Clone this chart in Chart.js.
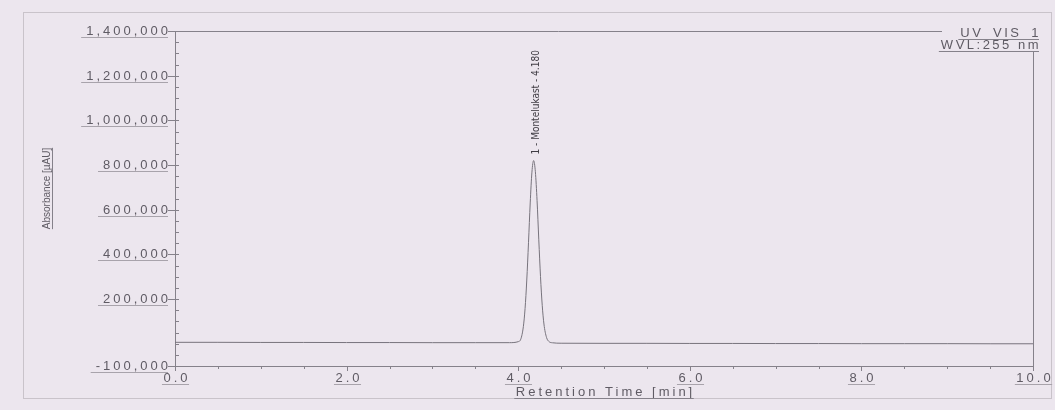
<!DOCTYPE html>
<html>
<head>
<meta charset="utf-8">
<title>Chromatogram</title>
<script src="https://cdn.jsdelivr.net/npm/chart.js@4/dist/chart.umd.min.js"></script>
<style>
  html,body{margin:0;padding:0;background:#ece6ee;overflow:hidden;}
  #wrap{position:relative;width:1055px;height:410px;}
  canvas{display:block;}
</style>
</head>
<body>
<div id="wrap"><canvas id="chroma" width="1055" height="410"></canvas></div>
<script>
/* ===== Data ===== */
const retentionTime = [0.0, 0.5, 1.0, 1.5, 2.0, 2.5, 3.0, 3.5, 3.9, 4.0, 4.03, 4.06, 4.08, 4.10, 4.12, 4.14, 4.16, 4.18,
                       4.20, 4.22, 4.24, 4.26, 4.28, 4.30, 4.33, 4.36, 4.40, 4.5, 5.0, 5.5, 6.0, 6.5, 7.0, 7.5, 8.0, 8.5, 9.0, 9.5, 10.0];
const absorbance    = [6000, 6000, 5500, 5500, 5000, 5000, 4500, 4500, 4500, 9000, 20000, 76000, 157000, 285000, 452000, 630000, 768000, 820000,
                       770000, 640000, 465000, 300000, 172000, 88000, 28000, 9000, 4000, 2000, 1500, 1500, 1000, 1000, 500, 500, 0, 0, 0, -500, -500];

const yTickValues = [-100000, 200000, 400000, 600000, 800000, 1000000, 1200000, 1400000];
const yTickLabels = ['-100,000', '200,000', '400,000', '600,000', '800,000', '1,000,000', '1,200,000', '1,400,000'];
const xTickValues = [0, 2, 4, 6, 8, 10];
const xTickLabels = ['0.0', '2.0', '4.0', '6.0', '8.0', '10.0'];

const peakTime  = 4.18;
const peakValue = 820000;
const peakLabel = '1 - Montelukast - 4.180';

const channelName = 'UV_VIS_1';
const wavelength  = 'WVL:255 nm';
const xTitle = 'Retention Time [min]';
const yTitle = 'Absorbance [\u00b5AU]';

/* ===== Helpers ===== */
const INK = '#5f5b64', LINE = '#85818a', FONT = "13px 'Liberation Sans', Arial, sans-serif";
function hline(ctx, x1, x2, y){ ctx.beginPath(); ctx.moveTo(x1, y); ctx.lineTo(x2, y); ctx.stroke(); }
function vline(ctx, x, y1, y2){ ctx.beginPath(); ctx.moveTo(x, y1); ctx.lineTo(x, y2); ctx.stroke(); }

/* ===== Axes, labels, frame drawn on the library scales ===== */
const decor = {
  id:'decor',
  beforeDatasetsDraw(chart){
    const {ctx, chartArea:a, scales:{x, y}} = chart;
    ctx.save();
    // outer page frame of the scan
    ctx.strokeStyle = '#c9c3ca'; ctx.lineWidth = 1;
    ctx.strokeRect(23.5, 12.5, 1028, 386);
    ctx.strokeStyle = LINE;
    // plot frame
    hline(ctx, a.left, 942, a.top + 0.5);
    vline(ctx, a.right + 0.5, 52, a.bottom);
    vline(ctx, a.left + 0.5, a.top, a.bottom + 4);
    hline(ctx, a.left, a.right + 1, a.bottom + 0.5);

    // y minor ticks (inside) and major ticks (outside)
    for(let v = yTickValues[0]; v <= yTickValues[yTickValues.length-1]; v += 50000){
      const py = Math.round(y.getPixelForValue(v)) + 0.5;
      hline(ctx, a.left, a.left + 4, py);
    }
    ctx.font = FONT; ctx.fillStyle = INK; ctx.letterSpacing = '3px';
    ctx.textAlign = 'right'; ctx.textBaseline = 'middle';
    yTickValues.forEach((v, i) => {
      const py = Math.round(y.getPixelForValue(v)) + 0.5;
      hline(ctx, a.left - 7, a.left, py);
      const w = ctx.measureText(yTickLabels[i]).width;
      ctx.fillText(yTickLabels[i], a.left - 4, py);
      ctx.strokeStyle = '#a8a3ab';
      hline(ctx, a.left - 9 - w, a.left - 7, py + 6);
      ctx.strokeStyle = LINE;
    });

    // x ticks
    for(let t = 0; t <= 10.001; t += 0.5){
      const px = Math.round(x.getPixelForValue(t)) + 0.5;
      vline(ctx, px, a.bottom, a.bottom + 3);
    }
    ctx.textAlign = 'center';
    xTickValues.forEach((v, i) => {
      const px = Math.round(x.getPixelForValue(v)) + 0.5;
      vline(ctx, px, a.bottom, a.bottom + 5);
      const w = ctx.measureText(xTickLabels[i]).width;
      ctx.fillText(xTickLabels[i], px + 1.5, a.bottom + 12);
      ctx.strokeStyle = '#a8a3ab';
      hline(ctx, px - w/2, px + w/2, a.bottom + 18.5);
      ctx.strokeStyle = LINE;
    });

    // axis titles
    const xm = (a.left + a.right) / 2;
    const tw = ctx.measureText(xTitle).width;
    ctx.fillText(xTitle, xm + 1.5, a.bottom + 26);
    hline(ctx, xm - tw/2, xm + tw/2, a.bottom + 32.5);

    ctx.letterSpacing = '0px';
    ctx.save();
    ctx.translate(47, (a.top + a.bottom) / 2 - 10);
    ctx.rotate(-Math.PI / 2);
    ctx.font = "10px 'Liberation Sans', Arial, sans-serif";
    const yw = ctx.measureText(yTitle).width;
    ctx.fillText(yTitle, 0, 0);
    hline(ctx, -yw/2, yw/2, 5.5);
    ctx.restore();

    // channel info, top right
    ctx.letterSpacing = '2.5px'; ctx.textAlign = 'right'; ctx.font = FONT;
    ctx.fillText(channelName, a.right + 8, a.top + 2);
    ctx.fillText(wavelength, a.right + 8, a.top + 14);
    const cw = ctx.measureText(channelName).width, ww = ctx.measureText(wavelength).width;
    hline(ctx, a.right + 6 - cw, a.right + 6, a.top + 8.5);
    hline(ctx, a.right + 6 - ww, a.right + 6, a.top + 20.5);
    ctx.letterSpacing = '0px';

    // peak annotation
    const px = x.getPixelForValue(peakTime), py = y.getPixelForValue(peakValue);
    ctx.save();
    ctx.translate(px + 3, py - 6);
    ctx.rotate(-Math.PI / 2);
    ctx.textAlign = 'left'; ctx.textBaseline = 'middle';
    ctx.font = "10px 'Liberation Sans Narrow', 'DejaVu Sans Condensed', 'Liberation Sans', sans-serif";
    ctx.fillStyle = '#3f3c43';
    ctx.fillText(peakLabel, 0, 0);
    ctx.restore();
    ctx.restore();
  }
};

/* ===== Chart ===== */
const points = retentionTime.map((t, i) => ({x:t, y:absorbance[i]}));
new Chart(document.getElementById('chroma').getContext('2d'), {
  type:'line',
  data:{ datasets:[{ data:points, borderColor:'#77737c', borderWidth:1, pointRadius:0, cubicInterpolationMode:'monotone', fill:false }] },
  options:{
    responsive:false, animation:false,
    layout:{ padding:{ left:175, right:22, top:31, bottom:44 } },
    plugins:{ legend:{display:false}, tooltip:{enabled:false} },
    scales:{
      x:{ type:'linear', min:0, max:10, display:false },
      y:{ type:'linear', min:-100000, max:1400000, display:false }
    }
  },
  plugins:[decor]
});
</script>
</body>
</html>
